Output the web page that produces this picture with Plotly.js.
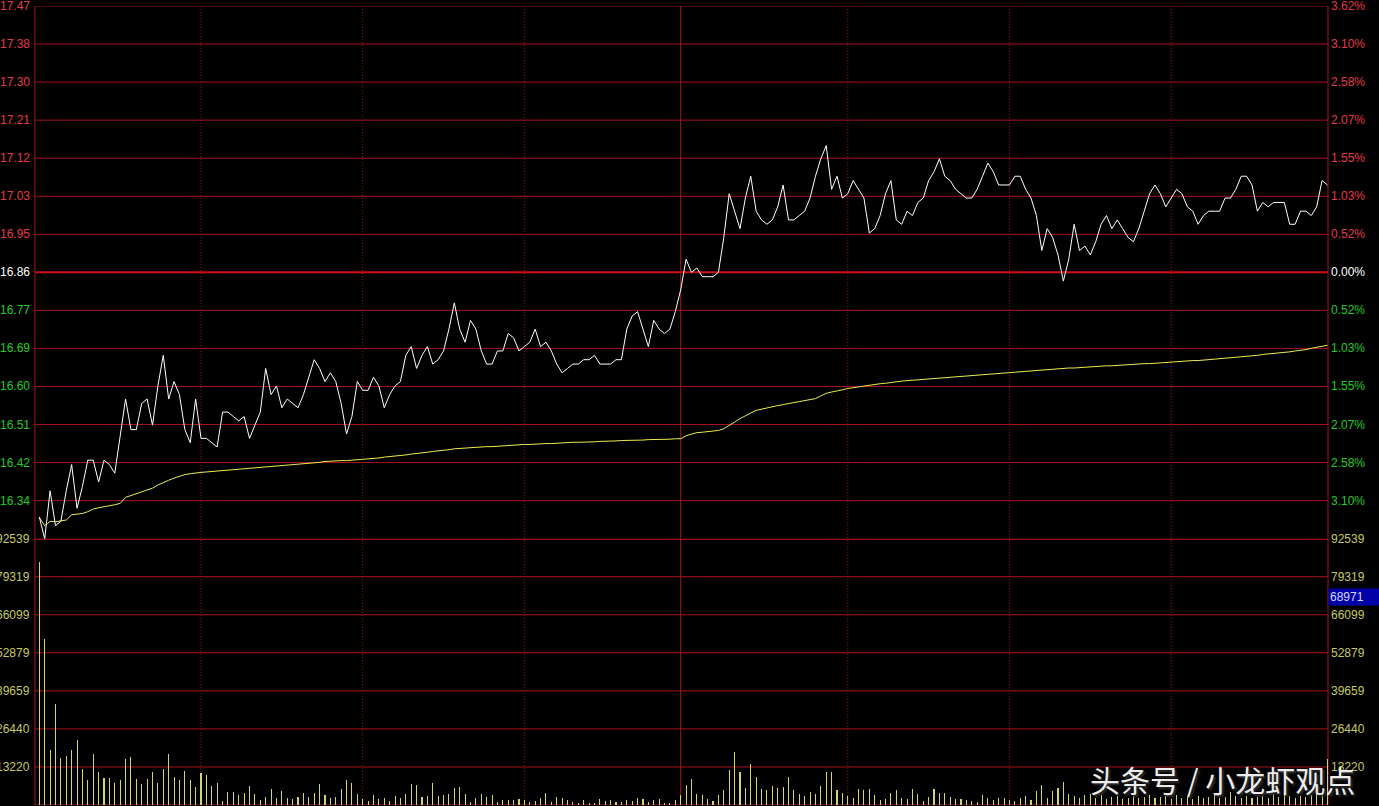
<!DOCTYPE html>
<html><head><meta charset="utf-8">
<script src="https://cdn.plot.ly/plotly-3.0.1.min.js"></script>
<style>html,body{margin:0;padding:0;background:#000;overflow:hidden}#chart{width:1379px;height:806px}</style>
</head><body><div id="chart"></div>
<script>
// ---------- data ----------
const preClose = 16.86;
const priceStep = 0.0871;
const volStep = 13220;
const priceTickLabels = ["17.47","17.38","17.30","17.21","17.12","17.03","16.95","16.86","16.77","16.69","16.60","16.51","16.42","16.34"];
const pctTickLabels = ["3.62%","3.10%","2.58%","2.07%","1.55%","1.03%","0.52%","0.00%","0.52%","1.03%","1.55%","2.07%","2.58%","3.10%"];
const volTickLabels = ["92539","79319","66099","52879","39659","26440","13220"];
const cursorVolume = 68971;
const watermark = "头条号 / 小龙虾观点";

const price = [
16.30,16.25,16.36,16.28,16.29,16.36,16.42,16.32,16.37,16.43,
16.43,16.38,16.43,16.42,16.40,16.49,16.57,16.50,16.50,16.56,
16.57,16.51,16.60,16.67,16.57,16.61,16.58,16.50,16.47,16.57,
16.48,16.48,16.47,16.46,16.54,16.54,16.53,16.52,16.53,16.48,
16.51,16.54,16.64,16.58,16.60,16.55,16.57,16.56,16.55,16.58,
16.62,16.66,16.64,16.61,16.63,16.61,16.56,16.49,16.53,16.61,
16.59,16.59,16.62,16.60,16.55,16.58,16.60,16.61,16.67,16.69,
16.64,16.67,16.69,16.65,16.66,16.68,16.73,16.79,16.73,16.70,
16.75,16.73,16.68,16.65,16.65,16.68,16.68,16.72,16.71,16.68,
16.69,16.70,16.73,16.69,16.70,16.68,16.65,16.63,16.64,16.65,
16.65,16.66,16.66,16.67,16.65,16.65,16.65,16.66,16.66,16.73,
16.76,16.77,16.73,16.69,16.75,16.73,16.72,16.73,16.77,16.82,
16.89,16.86,16.87,16.85,16.85,16.85,16.86,16.94,17.04,17.00,
16.96,17.03,17.08,17.00,16.98,16.97,16.98,17.01,17.06,16.98,
16.98,16.99,17.00,17.03,17.08,17.12,17.15,17.05,17.08,17.03,
17.04,17.07,17.05,17.03,16.95,16.96,16.99,17.04,17.07,16.98,
16.97,17.00,16.99,17.02,17.03,17.07,17.09,17.12,17.08,17.07,
17.05,17.04,17.03,17.03,17.05,17.08,17.11,17.09,17.06,17.06,
17.06,17.08,17.08,17.05,17.03,16.99,16.91,16.96,16.94,16.90,
16.84,16.89,16.97,16.91,16.92,16.90,16.93,16.97,16.99,16.96,
16.98,16.96,16.94,16.93,16.96,17.00,17.04,17.06,17.04,17.01,
17.03,17.05,17.04,17.01,17.00,16.97,16.99,17.00,17.00,17.00,
17.03,17.03,17.05,17.08,17.08,17.06,17.00,17.02,17.01,17.02,
17.02,17.02,16.97,16.97,17.00,17.00,16.99,17.01,17.07,17.06
];

const avgPrice = [
16.299,16.280,16.290,16.289,16.291,16.293,16.305,16.306,16.308,16.312,
16.318,16.321,16.323,16.326,16.328,16.331,16.345,16.349,16.353,16.357,
16.361,16.366,16.373,16.379,16.384,16.389,16.393,16.397,16.399,16.401,
16.402,16.403,16.404,16.405,16.406,16.408,16.409,16.409,16.410,16.411,
16.412,16.413,16.414,16.415,16.416,16.417,16.418,16.419,16.420,16.421,
16.423,16.424,16.425,16.427,16.428,16.428,16.429,16.429,16.430,16.431,
16.431,16.433,16.434,16.435,16.437,16.438,16.439,16.441,16.442,16.444,
16.445,16.447,16.448,16.450,16.451,16.453,16.454,16.456,16.457,16.457,
16.458,16.459,16.460,16.461,16.461,16.462,16.463,16.464,16.464,16.465,
16.466,16.466,16.467,16.467,16.468,16.468,16.469,16.470,16.470,16.471,
16.471,16.471,16.472,16.472,16.473,16.473,16.473,16.474,16.475,16.475,
16.475,16.476,16.476,16.477,16.477,16.478,16.478,16.478,16.479,16.479,
16.486,16.490,16.493,16.494,16.495,16.497,16.498,16.502,16.509,16.517,
16.525,16.532,16.538,16.544,16.547,16.549,16.552,16.555,16.557,16.560,
16.562,16.564,16.566,16.569,16.571,16.577,16.583,16.586,16.588,16.591,
16.594,16.596,16.598,16.599,16.601,16.603,16.605,16.606,16.608,16.610,
16.611,16.612,16.613,16.614,16.615,16.616,16.617,16.618,16.619,16.620,
16.621,16.622,16.623,16.624,16.625,16.626,16.627,16.628,16.628,16.629,
16.630,16.631,16.632,16.633,16.635,16.636,16.637,16.638,16.638,16.639,
16.640,16.641,16.641,16.642,16.643,16.644,16.644,16.645,16.646,16.646,
16.647,16.648,16.649,16.649,16.650,16.651,16.651,16.652,16.653,16.654,
16.654,16.655,16.656,16.657,16.658,16.658,16.659,16.660,16.661,16.662,
16.663,16.664,16.665,16.666,16.667,16.669,16.670,16.672,16.673,16.674,
16.676,16.677,16.678,16.680,16.681,16.683,16.686,16.688,16.690,16.693
];

const volume = [
84300,57750,19200,35100,16350,17050,19200,22550,12500,8750,
17640,11500,9400,9400,7700,8590,15900,16700,8940,7410,
8940,11480,7650,12420,17850,9740,8590,11830,8590,6260,
11240,10440,6610,7760,1390,4520,4520,3480,4280,6610,
3720,1740,2780,5460,2540,4870,2540,2190,2780,4070,
2780,4170,7200,3480,2540,2780,5460,8590,7760,3720,
1980,1390,3400,2100,2540,1390,3130,2540,3720,7410,
6960,2780,3130,7760,3130,3370,3720,5810,6260,3720,
1150,2540,3720,2780,3370,1040,1740,1740,1740,1980,
1740,1150,1390,2320,4070,1040,2780,2540,1620,1040,
700,1620,700,700,1980,1390,1620,1150,1150,1620,
1390,2320,1980,1040,1620,1980,810,810,1740,3370,
6960,8940,3720,3400,2100,1390,3430,5100,12070,18540,
11480,5810,14370,9740,5460,5100,6610,5810,6260,9740,
5100,3720,3130,4520,3720,6610,11480,11480,5100,4070,
3130,2540,5680,5100,5460,3480,1740,2190,4070,5100,
2540,2190,5460,3720,1390,2780,5460,4070,4070,2780,
2190,2190,1740,1390,1040,3370,2540,1740,2320,2320,
1740,1390,2320,3130,1620,4870,6960,2540,4870,5810,
8000,3930,3130,2320,3480,3930,2500,3500,2200,2800,
3100,2000,2600,3300,2400,2900,3600,2300,2700,3000,
2100,3400,2600,2800,2200,3200,2500,2900,3500,2300,
2700,4500,3000,2600,3300,2400,2800,3100,2500,3800,
2900,4500,3200,2600,3000,2700,3400,3900,4500,16000
];

const minuteIndex = price.map((_, i) => i);
const halfHourMarks = [30, 60, 90, 150, 180, 210];
const middayMark = 119;

// ---------- styling ----------
const RED_TXT = '#e23c46', GREEN_TXT = '#22cc22', WHITE_TXT = '#ffffff', YEL_TXT = '#c8c864';
const GRID = '#aa141c', GRID_BOLD = '#d01018', VDOT = '#a01418';
const FONT = 'Liberation Sans, Arial, sans-serif';

const priceTickVals = priceTickLabels.map((_, k) => preClose + (7 - k) * priceStep);
const volTickVals = volTickLabels.map((_, k) => (7 - k) * volStep);

const shapes = [];
const annotations = [];

priceTickVals.forEach((v, k) => {
  const bold = (k === 7);
  shapes.push({type:'line', xref:'paper', yref:'y', x0:0, x1:1, y0:v, y1:v, layer:'below',
    line:{color: bold ? GRID_BOLD : GRID, width: bold ? 2 : 1}});
  const col = k < 7 ? RED_TXT : (k === 7 ? WHITE_TXT : GREEN_TXT);
  annotations.push({xref:'paper', yref:'y', x:0, y:v, xanchor:'right', yanchor:'middle', xshift:-3,
    text: priceTickLabels[k], showarrow:false, font:{family:FONT, size:12, color:col}});
  annotations.push({xref:'paper', yref:'y', x:1, y:v, xanchor:'left', yanchor:'middle', xshift:1,
    text: pctTickLabels[k], showarrow:false, font:{family:FONT, size:12, color:col}});
});
volTickVals.forEach((v, k) => {
  const bold = (k === 0);
  shapes.push({type:'line', xref:'paper', yref:'y2', x0:0, x1:1, y0:v, y1:v, layer:'below',
    line:{color: bold ? GRID_BOLD : GRID, width: bold ? 2 : 1}});
  annotations.push({xref:'paper', yref:'y2', x:0, y:v, xanchor:'right', yanchor:'middle', xshift:-3,
    text: volTickLabels[k], showarrow:false, font:{family:FONT, size:12, color:YEL_TXT}});
  annotations.push({xref:'paper', yref:'y2', x:1, y:v, xanchor:'left', yanchor:'middle', xshift:1,
    text: volTickLabels[k], showarrow:false, font:{family:FONT, size:12, color:YEL_TXT}});
});
// bottom border
shapes.push({type:'line', xref:'paper', yref:'y2', x0:0, x1:1, y0:0, y1:0, layer:'below', line:{color:GRID, width:1}});
// left / right borders
shapes.push({type:'line', xref:'paper', yref:'paper', x0:0, x1:0, y0:0, y1:1, layer:'below', line:{color:GRID, width:1}});
shapes.push({type:'line', xref:'paper', yref:'paper', x0:1, x1:1, y0:0, y1:1, layer:'below', line:{color:GRID, width:1}});
// vertical time lines
halfHourMarks.forEach(m => shapes.push({type:'line', xref:'x', yref:'paper', x0:m, x1:m, y0:0, y1:1, layer:'below',
  line:{color:VDOT, width:1, dash:'1px,2px'}}));
shapes.push({type:'line', xref:'x', yref:'paper', x0:middayMark, x1:middayMark, y0:0, y1:1, layer:'below',
  line:{color:GRID, width:1}});

// cursor value box
annotations.push({xref:'paper', yref:'y2', x:1, y:cursorVolume, xanchor:'left', yanchor:'bottom', xshift:0,
  text: String(cursorVolume), showarrow:false, bgcolor:'#0000a8', width:48, align:'left', borderpad:1,
  font:{family:FONT, size:12, color:'#d8d8ff'}});
// watermark
annotations.push({xref:'paper', yref:'paper', x:0.8144, y:0.033, xanchor:'left', yanchor:'middle',
  text: watermark, showarrow:false,
  font:{family:'Noto Sans CJK SC, sans-serif', size:30, color:'#ececec', shadow:'2px 2px 2px #303030'}});

const traces = [
  {type:'bar', x:minuteIndex, y:volume, xaxis:'x', yaxis:'y2', width:0.2,
   marker:{color:'#d6d66a', line:{width:0}}, hoverinfo:'skip'},
  {type:'scatter', mode:'lines', x:minuteIndex, y:avgPrice, xaxis:'x', yaxis:'y',
   line:{color:'#ecec50', width:1}, hoverinfo:'skip'},
  {type:'scatter', mode:'lines', x:minuteIndex, y:price, xaxis:'x', yaxis:'y',
   line:{color:'#ffffff', width:1}, hoverinfo:'skip'}
];

const layout = {
  width:1379, height:806,
  margin:{l:35, r:51, t:6, b:1, pad:0},
  paper_bgcolor:'#000000', plot_bgcolor:'#000000',
  showlegend:false, bargap:0,
  xaxis:{range:[-0.8, 239.1], visible:false, fixedrange:true},
  yaxis:{domain:[1/3, 1], range:[preClose - 7*priceStep, preClose + 7*priceStep],
         showgrid:false, zeroline:false, showticklabels:false, ticks:'', showline:false},
  yaxis2:{domain:[0, 1/3], range:[0, 7*volStep], anchor:'x',
         showgrid:false, zeroline:false, showticklabels:false, ticks:'', showline:false},
  shapes: shapes,
  annotations: annotations
};

Plotly.newPlot('chart', traces, layout, {displayModeBar:false, staticPlot:true});
</script>
</body></html>
